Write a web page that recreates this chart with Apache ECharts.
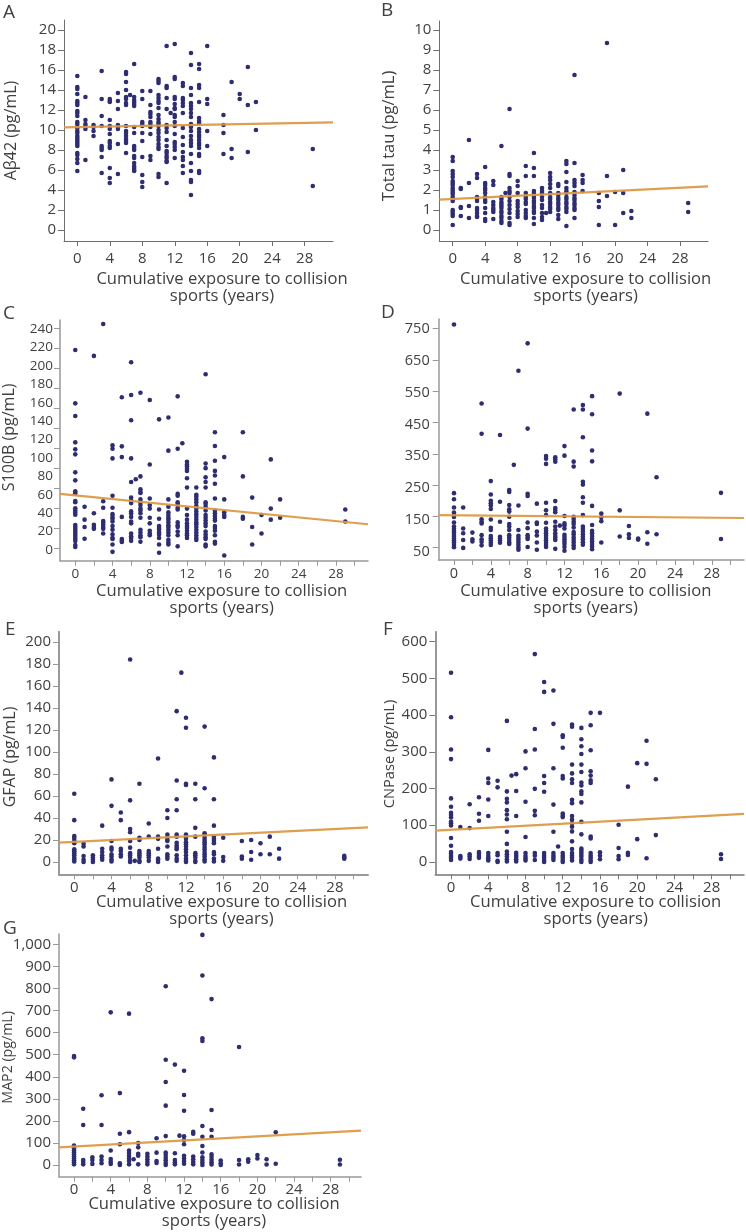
<!DOCTYPE html>
<html><head><meta charset="utf-8">
<script src="https://cdn.jsdelivr.net/npm/echarts@6/dist/echarts.min.js"></script>
<style>html,body{margin:0;padding:0;background:#fff}#c{width:746px;height:1232px}</style>
</head><body><div id="c"></div>
<script>
const xName = 'Cumulative exposure to collision\nsports (years)';
const xLabelValues = [0,4,8,12,16,20,24,28];
const xTicksEvery4 = [0,4,8,12,16,20,24,28];
const xTicksEvery2 = [0,2,4,6,8,10,12,14,16,18,20,22,24,26,28,30];

const ticksA = [0,2,4,6,8,10,12,14,16,18,20];
const ticksB = [0,1,2,3,4,5,6,7,8,9,10];
const labelsC = [0,20,40,60,80,100,120,140,160,180,200,220,240];
const ticksC = [0,20,40,60,80,100,120,140,160,180,200,220];
const ticksD = [50,150,250,350,450,550,650,750];
const ticksE = [0,20,40,60,80,100,120,140,160,180,200];
const ticksF = [0,100,200,300,400,500,600];
const ticksG = [0,100,200,300,400,500,600,700,800,900,1000];

const lineA = [[-1.64,10.27],[31.49,10.77]];
const lineB = [[-1.65,1.52],[31.44,2.18]];
const lineC = [[-1.64,61],[31.44,28]];
const lineD = [[-1.66,165],[31.5,156]];
const lineE = [[-1.64,17.5],[31.55,31.4]];
const lineF = [[-1.69,85],[31.47,131]];
const lineG = [[-1.64,80],[31.3,156]];

const pointsA = [
[0,[15.4,14.3,14.1,13.6,12.9,12.7,12.5,11.9,11.7,11.4,10.8,10.6,10.3,10.2,9.9,9.7,9.4,9.2,9,8.8,8.6,8.4,7.7,7.5,7.1,6.7,5.9]],
[1,[13.3,11,10.6,10.4,10.1,7]],[2,[10.5,10.3,9.9,9.4]],
[3,[15.9,13.1,11.4,10.4,8.4,8.2,8,7.3,5.7]],
[4,[13.1,12.9,12.8,11,10.4,10.1,9.6,8.9,8.7,8.4,8.2,6.2,5.2,4.7]],
[5,[13.7,12.9,12.1,10.5,10.3,10.1,8.6,5.6]],
[6,[15.8,15.6,14.8,14,13.3,13.1,12.7,12.5,10.4,9.9,9.7,9.4,9.1,8.9,8.7,7.7]],[6.5,[13.5]],
[7,[16.6,13.3,13,12.8,12.6,12.4,10.3,9.7,8.4,8.2,8,7.4,7.2,6.7,6.4,6.2,6,5.9]],
[8,[13.9,13.1,10.8,10.6,10.4,9.7,8.9,7.3,5.5,4.8,4.3]],
[9,[13.9,12.5,11.8,11.6,11.3,10.8,10.6,10.3,9.6,7.4,7]],
[10,[15.1,14.9,14.7,13.5,13.2,12.9,12.7,12.2,11.5,11.1,10.8,10.6,10.4,10,9.7,9.3,9,8.6,8.3,8.1,5.6,5.3]],
[11,[18.4,14.4,14.2,13.2,12.1,10.5,10.2,9.8,9,8.4,7.9,7.7,7.4,7.2,6.9,6.8,4.7]],[11.5,[11.7]],
[12,[18.6,15.3,15.1,13.3,13.1,12.6,12.2,12.1,11.5,11.3,10.8,10.4,9.6,8.8,8.6,8.3,8,7.2]],
[13,[14.7,14.4,13.2,13,12.7,12.4,11.7,10.2,9.3,8.5,7.8,7.3,7,6.4,5.7]],
[14,[17.7,16.5,14.2,13.5,12.7,12.4,12.1,11.7,11.3,10.6,10.3,9.9,9.4,9,8.7,8.4,7.6,6.7,5.9,5,4.8,3.5]],
[15,[16.6,16.1,14.5,14.2,12.8,11.2,10.9,10.7,10.1,9.8,9.5,9.3,9,8.7,8.5,8.2,7.6,7.4,5.9,5.7]],
[16,[18.4,13.1,12.6,9.9,8.4]],[18,[11.5,10.5,9.7,7.6]],[19,[14.8,8.1,7.2]],[20,[13.6,13.1]],
[21,[16.3,12.5,7.8]],[22,[12.8,10]],[29,[8.1,4.4]]];

const pointsB = [
[0,[3.65,3.45,2.95,2.8,2.65,2.45,2.35,2.25,2.1,2,1.9,1.8,1.65,1.55,1.45,1,.9,.8,.7,.25]],
[1,[2.1,2.05,1.15,1.1,.7]],[2,[4.5,2.35,1.2,.6]],
[3,[2.8,2.6,1.65,1.55,1.45,1.1,1,.85,.7,.65]],
[4,[3.15,2.35,2.25,2.1,2,1.85,1.65,1.5,1.4,1.1,.85,.55,.45]],
[5,[2.45,2.25,1.4,1.25,1.1,1,.9,.55]],
[6,[4.2,1.65,1.55,1.4,1.3,1.2,1.1,.95,.85,.7,.6,.45,.35]],[6.5,[1.85]],
[7,[6.05,2.8,2.7,2.1,1.95,1.85,1.65,1.45,1.25,1.05,.85,.6,.35,.25]],
[8,[2.45,2.2,1.85,1.45,1.3,1.15,.95,.8,.65]],
[9,[3.2,2.7,1.85,1.65,1.55,1.4,1.3,1,.85,.7,.6]],
[10,[3.85,3.1,2.7,1.95,1.85,1.7,1.6,1.45,1.35,1.2,1.1,.95,.85,.6,.3]],
[11,[2.1,1.95,1.85,1.65,1.5,1.25,1.1,.85,.65,.5]],[11.5,[.85]],
[12,[2.85,2.65,2.5,2.3,2.1,1.85,1.65,1.55,1.4,1.3,1.15,1.05,.9]],
[13,[2.3,2.2,1.85,1.75,1.6,1.5,1.35,1.25,1.1,1,.75,.55]],
[14,[3.45,3.3,2.9,2.4,2.1,1.95,1.85,1.65,1.55,1.4,1.3,1.15,1.05,.9,.2]],
[15,[7.75,3.35,2.5,2.35,2.2,1.9,1.75,1.6,1.5,1.35,1.25,1.1,1,.6]],
[16,[2.75,2.5,2.35,1.95]],[18,[1.85,1.45,1.15,.25]],[19,[9.35,2.7,1.7]],[20,[1.9,.25]],
[21,[3,1.85,.85]],[22,[.95,.6]],[29,[1.35,.9]]];

const pointsC = [
[0,[217.4,159.4,145.7,117,109.4,104,84.4,75.7,63.8,61.6,53.3,52,45.3,42.8,40.6,38.4,27.2,25,22.8,20.7,18.5,16.3,14.1,12,9.8,5.4,3.3]],
[1,[47,33,25,12.3]],[2,[211,40,27.5,25,23]],
[3,[245.6,53,46,31.5,29.7,27.5,25,23,18]],
[4,[113.8,110,99.6,59,46,39,36,34,31,26,22,17,13,12,6,-2]],
[5,[166,112.7,101,36,12,10,8.7]],
[6,[204,168.5,141,99.6,74,57,54,51,42,40,36,31,29,18,15,13,10]],[6.5,[77]],
[7,[171,80,66,63,62,55,52,49,45,43,40,35,22,19,16,14,9]],
[8,[163,93,56,49,45,35,29,21,18,16]],
[9,[142,44,34,26,24,22,19,17,13,6,-3]],
[10,[144,108,55,47,41,38,35,33,30,27,25,22,19,16,11,8,6]],
[11,[167,110,61,59,52,50,46,44,30,27,25,20,16,4]],[11.5,[116]],
[12,[96,93,91,88,86,78,68,45,38,33,29,26,24,21,18,16,13]],
[13,[68,60,58,55,52,48,45,42,39,36,33,30,28,25,22,19,16,13,11]],
[14,[191,94,89,79,74,68,52,50,47,43,38,35,32,29,26,20,17,14,12,6,4]],
[15,[128,113,97,86,81,72,56,43,40,37,34,32,26,24,21,16,9,7]],
[16,[101,55,41,38,36,-6]],[18,[128,80,36,34]],[19,[57,25,6]],[20,[38,18]],
[21,[98.5,45,33]],[22,[55,35]],[29,[44,31]]];

const pointsD = [
[0,[764,234,215,189,173,165,159,142,129,122,116,110,103,97,91,85,79,71,64]],
[1,[189,123,108,87,62]],[2,[110,89,82]],
[3,[516,421,152,144,139,102,89,81,70]],
[4,[272,230,210,202,195,184,151,125,118,99,92,85,78,71]],
[5,[417,207,144,97,91,85,78]],
[6,[244,238,197,183,176,160,137,129,118,102,95,87,79,74]],[6.5,[323]],
[7,[619,195,118,100,93,87,79,71,63,56]],
[8,[705,437,232,225,142,124,102,95,90,65]],
[9,[201,142,137,113,101,79,56]],
[10,[351,342,326,204,180,165,141,123,116,108,100,93,86,78,71,65]],
[11,[347,340,333,209,187,181,174,144,129,118,108,99,93,87,59]],[11.5,[132]],
[12,[382,352,162,139,132,123,103,96,89,81,74,65,53]],
[13,[497,333,318,160,153,144,137,126,112,105,95,87,79,70,62]],
[14,[511,497,410,270,261,221,204,165,129,121,113,105,96,89,80,72]],
[15,[539,482,368,334,194,134,116,108,99,91,83,74,66,58]],
[16,[170,158,146,79]],[18,[547,180,98]],[19,[131,105,93]],[20,[91,88]],
[21,[484,111,75]],[22,[284,105]],[29,[235,90]]];

const pointsE = [
[0,[62,38,23.5,22,20,17,11.5,9.7,8,6,4,2.5,.5]],
[1,[16.6,14,5.4,2,0]],[2,[6,4,2,0]],[3,[33,12,9,6,4,2]],
[4,[75,51,19,13,11,7,5,2.5,.5]],[5,[45,38,12,10,7,5]],
[6,[184,56,30,27,19,13,8,6,4,1,0]],[6.5,[1]],
[7,[71,22,20,10,8,6,4,1,0]],[8,[35,23,10,8,6,4,1]],
[9,[94,23,21,12,3,2,0]],[10,[47,40,25,22,20,19,14,7,5,3]],
[11,[137,74,57,47,25,23,17.5,15,13,11.5,6,3,1]],[11.5,[172]],
[12,[131,122,71,70,25,23,21,18,16,14,11.5,9,6,3,1,0]],
[13,[71,57,31,23,8,6,4,1,0]],
[14,[123,67,26,25,22,20,18,16,13.6,11.5,9,7,5,2.5,.5]],
[15,[95,57,33,23,21,19,17,9,7,3,.5]],
[16,[22,4.5,1]],[18,[19,5,3]],[19,[20,9,2]],[20,[17,7]],[21,[23,7]],[22,[12,3]],[29,[5.5,4,3]]];

const pointsF = [
[0,[515,394,306,280,173,150,134,128,121,109,105,99,65,44,27,22,16,11,5]],
[1,[95,16,13,9]],[2,[157,92,21,15,8]],[3,[176,131,112,27,22,16,11]],
[4,[305,227,215,170,125,24,16,10,4]],[5,[221,203,24,18,3,0]],
[6,[384,192,172,162,141,129,116,82,49,28,21,15,7,1]],[6.5,[235]],
[7,[239,193,125,25,19,13,7,1]],[8,[301,255,164,68,24,16,10,4]],
[9,[566,362,306,199,139,127,24,17,5]],
[10,[490,463,234,215,191,24,17,11,5,0]],
[11,[467,376,255,156,82,24,17,11,5]],[11.5,[42]],
[12,[345,340,311,234,227,132,126,122,24,17,11,5,0]],
[13,[374,368,265,241,225,215,169,160,125,115,105,96,83,56,35,24,17,11,4]],
[14,[365,334,315,294,265,245,216,208,192,185,162,109,75,36,31,25,19,13,6,0]],
[15,[406,372,304,247,235,222,215,69,64,24,17,11,5,0]],
[16,[406,26,17,7]],[18,[101,38,16,7]],[19,[205,25,19]],[20,[269,62]],[21,[330,267,10]],[22,[225,73]],[29,[21,8]]];

const pointsG = [
[0,[494,488,88,75,66,57,48,39,30,21,12,3]],
[1,[255,181,23,14,3]],[2,[35,23,5]],[3,[316,181,38,23,8]],
[4,[692,66,27,15,5]],[5,[326,142,94,8,0]],
[6,[686,149,66,54,42,30,18,3]],[6.5,[26]],
[7,[100,80,51,42,3]],[8,[51,38,26,14,3]],[9,[121,56,18,9]],
[10,[810,477,376,269,131,57,45,33,21,9,0]],
[11,[455,53,23,12,3]],[11.5,[133]],
[12,[427,317,246,130,113,94,42,30,18,6]],
[13,[150,142,38,26,14,3]],
[14,[1043,859,574,562,177,128,86,57,35,23,11,0]],
[15,[752,249,159,128,48,36,24,12,2]],
[16,[20,8,0]],[18,[535,23,2]],[19,[26,15]],[20,[45,30]],[21,[26,2]],[22,[148,6]],[29,[24,2]]];

const INK='#404040', DOT='#2e2d70', TREND='#dc9a45';
const panels = [
 {l:'A',lx:3,ly:3,name:'Aβ42 (pg/mL)',fs:16,ng:45,ns:0,pts:pointsA,line:lineA,g:[64,333,20,241],x:[-1.64,31.49],y:[-1.1,21],ticks:ticksA,xt:xTicksEvery4,ax:'#6e6e6e',aw:1,lfs:15,lm:10,ym:8,xs:23.5,xg:29.5},
 {l:'B',lx:381,ly:1,name:'Total tau (pg/mL)',fs:16.5,ng:42,ns:-5,pts:pointsB,line:lineB,g:[439.3,708,21,241],x:[-1.65,31.44],y:[-.55,10.45],ticks:ticksB,xt:xTicksEvery4,ax:'#6e6e6e',aw:1,lfs:15,lm:10,ym:8,xs:12,xg:29.5},
 {l:'C',lx:3,ly:304,name:'S100B (pg/mL)',fs:16,ng:43,ns:3,pts:pointsC,line:lineC,g:[60,368,320,560.7],x:[-1.64,31.44],y:[-11.6,250],ticks:labelsC,tickAxis:{range:[-12.4,228.3],vals:ticksC},xt:xTicksEvery2,ax:'#999',aw:1.5,lfs:13.5,lm:6,ym:7,xs:7.7,xg:22},
 {l:'D',lx:381,ly:303,name:'',fs:15,ng:44,ns:0,pts:pointsD,line:lineD,g:[438.7,744,319,560],x:[-1.66,31.5],y:[23.9,781.5],ticks:ticksD,tickAxis:{range:[10.7,780.9],vals:ticksD},xt:xTicksEvery2,ax:'#999',aw:1.5,lfs:14.5,lm:6,ym:9,xs:-5.6,xg:22.5},
 {l:'E',lx:5,ly:620,name:'GFAP (pg/mL)',fs:16,ng:41,ns:-4,pts:pointsE,line:lineE,g:[59,368,631.7,874.3],x:[-1.64,31.55],y:[-11.2,209.2],ticks:ticksE,xt:xTicksEvery2,ax:'#999',aw:2,lfs:15,lm:6,ym:8,xs:8,xg:19},
 {l:'F',lx:383,ly:620,name:'CNPase (pg/mL)',fs:14.7,ng:38,ns:-1,pts:pointsF,line:lineF,g:[435.3,744,631.7,874.3],x:[-1.69,31.47],y:[-33.8,627],ticks:ticksF,xt:xTicksEvery2,ax:'#777',aw:1.5,lfs:15,lm:6,ym:8,xs:6,xg:19},
 {l:'G',lx:3,ly:919,name:'MAP2 (pg/mL)',fs:14.2,ng:44,ns:-2,pts:pointsG,line:lineG,g:[59,361,934,1176.7],x:[-1.64,31.3],y:[-53,1047],ticks:ticksG,xt:xTicksEvery2,ax:'#999',aw:1.5,lfs:15,lm:6,ym:8,xs:4,xg:19}
];
const font='"Open Sans", sans-serif';
const opt={animation:false,backgroundColor:'#fff',title:[],grid:[],xAxis:[],yAxis:[],series:[]};
panels.forEach((p,i)=>{
  opt.title.push({text:p.l,left:p.lx,top:p.ly,padding:0,textStyle:{color:INK,fontFamily:font,fontSize:19,fontWeight:'normal'}});
  const [gl,gr,gt,gb]=p.g;
  opt.grid.push({left:gl,top:gt,width:gr-gl,height:gb-gt,containLabel:false});
  const line={show:true,onZero:false,lineStyle:{color:p.ax,width:p.aw}};
  const tick={show:true,length:5,lineStyle:{color:p.ax,width:1}};
  const s=p.xs;
  opt.xAxis.push({type:'value',gridIndex:i,min:p.x[0],max:p.x[1],splitLine:{show:false},axisLine:line,
    axisTick:{...tick,customValues:p.xt},
    axisLabel:{customValues:xLabelValues,margin:p.lm,color:INK,fontFamily:font,fontSize:p.lfs,hideOverlap:false,showMinLabel:true,showMaxLabel:true},
    name:xName,nameLocation:'middle',nameGap:p.xg,nameMoveOverlap:false,
    nameTextStyle:{color:INK,fontFamily:font,fontSize:16.6,lineHeight:17,padding:[0,Math.max(-2*s,0),0,Math.max(2*s,0)]}});
  const yIdx=opt.yAxis.length;
  const ns=p.ns;
  opt.yAxis.push({type:'value',gridIndex:i,min:p.y[0],max:p.y[1],splitLine:{show:false},axisLine:line,
    axisTick:p.tickAxis?{show:false}:{...tick,length:6,customValues:p.ticks},
    axisLabel:{customValues:p.ticks,margin:p.ym,color:INK,fontFamily:font,fontSize:p.lfs,
      formatter:v=>v>=1000?v.toLocaleString('en-US'):String(v)},
    name:p.name,nameLocation:'middle',nameGap:p.ng,nameMoveOverlap:false,
    nameTextStyle:{color:INK,fontFamily:font,fontSize:p.fs,padding:[0,Math.max(-2*ns,0),0,Math.max(2*ns,0)]}});
  if(p.tickAxis){
    opt.yAxis.push({type:'value',gridIndex:i,position:'left',min:p.tickAxis.range[0],max:p.tickAxis.range[1],
      splitLine:{show:false},axisLine:{show:false,onZero:false},axisLabel:{show:false},
      axisTick:{...tick,length:6,customValues:p.tickAxis.vals}});
  }
  const data=[];
  p.pts.forEach(([x,ys])=>ys.forEach(y=>data.push([x,y])));
  opt.series.push({type:'scatter',xAxisIndex:i,yAxisIndex:yIdx,data,symbolSize:4.6,clip:false,itemStyle:{color:DOT,opacity:1},z:2});
  opt.series.push({type:'line',xAxisIndex:i,yAxisIndex:yIdx,data:p.line,showSymbol:false,symbol:'none',clip:false,lineStyle:{color:TREND,width:2.2,opacity:.95},z:3});
});
const chart=echarts.init(document.getElementById('c'),null,{renderer:'canvas'});
chart.setOption(opt);
</script></body></html>
